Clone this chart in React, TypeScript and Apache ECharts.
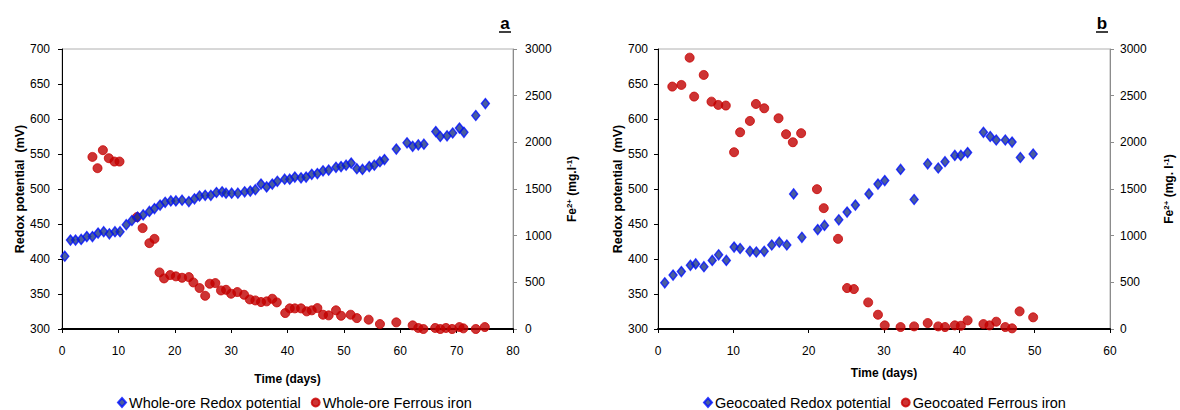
import React, { useEffect, useRef } from "react";
import * as echarts from "echarts";

// ---- Panel a: whole-ore ----
const wholeRedoxDays = [0.5,1.5,2.4,3.4,4.4,5.4,6.4,7.4,8.4,9.4,10.3,11.4,12.4,13.4,14.4,15.5,16.4,17.4,18.3,19.3,20.2,21.3,22.5,23.5,24.4,25.4,26.4,27.4,28.4,29.1,30.1,31.2,32.4,33.4,34.3,35.3,36.3,37.3,38.2,39.5,40.4,41.3,42.4,43.3,44.3,45.3,46.3,47.3,48.6,49.5,50.4,51.3,52.3,53.3,54.5,55.4,56.4,57.2,59.3,61.2,62.2,63.2,64.2,66.3,67.1,68.3,69.3,70.5,71.3,73.4,75.1];
const wholeRedoxMv = [404,427,427,428,432,432,437,439,436,439,439,449,455,460,463,468,472,477,481,483,483,484,482,486,490,491,491,495,496,494,494,494,496,497,499,507,503,507,511,514,514,517,516,517,521,522,526,527,531,532,534,537,529,528,532,534,539,542,557,566,561,563,564,582,575,576,580,587,581,605,622];
const wholeFeDays = [5.4,6.3,7.25,8.3,9.3,10.2,13.3,14.3,15.5,16.4,17.3,18.1,19.2,20.2,21.3,22.5,23.3,24.4,25.4,26.2,27.2,28.2,29.1,30.0,31.1,32.3,33.3,34.3,35.3,36.3,37.3,38.1,39.6,40.4,41.3,42.4,43.4,44.3,45.3,46.3,47.3,48.6,49.5,51.2,52.3,54.4,56.4,59.3,62.2,63.2,64.1,66.2,67.1,68.1,69.2,70.5,71.2,73.4,75.0];
const wholeFeMg = [1844,1723,1916,1830,1794,1794,1199,1081,920,966,606,542,578,564,549,556,499,439,356,485,492,413,420,378,396,367,317,306,289,296,324,285,171,221,221,221,189,200,224,153,146,200,142,153,117,100,53,71,39,11,0,11,0,11,0,21,7,0,21];

// ---- Panel b: geocoated ----
const geoRedoxDays = [0.9,2.0,3.1,4.3,5.0,6.1,7.2,8.05,9.07,10.1,10.9,12.2,13.05,14.1,15.1,16.1,17.1,18.0,19.1,21.2,22.1,24.0,25.1,26.2,28.0,29.2,30.1,32.2,34.0,35.8,37.2,38.1,39.4,40.2,41.1,43.2,44.1,44.9,46.1,47.0,48.1,49.8];
const geoRedoxMv = [366,377,382,391,393,389,398,406,398,417,415,411,410,411,420,424,420,493,431,442,448,456,467,477,493,507,512,528,485,536,530,539,548,548,552,581,575,570,570,567,545,550];
const geoFeDays = [1.9,3.1,4.2,4.8,6.07,7.1,8.0,9.0,10.1,10.9,12.2,13.0,14.1,16.0,17.0,17.9,19.0,21.1,22.0,23.9,25.1,26.0,27.9,29.2,30.1,32.2,34.0,35.8,37.2,38.1,39.4,40.2,41.1,43.2,44.0,44.9,46.1,47.0,48.0,49.8];
const geoFeMg = [2597,2615,2907,2490,2722,2436,2401,2394,1894,2108,2229,2411,2365,2258,2087,2001,2098,1498,1295,966,439,428,285,153,39,21,28,64,28,21,39,35,92,53,39,78,21,7,189,125];

const seriesNames = [
  "Whole-ore Redox potential",
  "Whole-ore Ferrous iron",
  "Geocoated Redox potential",
  "Geocoated Ferrous iron",
];
const panelLetters = ["a", "b"];
const xTitle = "Time (days)";
const leftTitle = "Redox potential  (mV)";

const zip = (xs: number[], ys: number[]) => xs.map((x, i) => [x, ys[i]]);

const FONT = "'Liberation Sans', Arial, sans-serif";

export default function App() {
  const ref = useRef<HTMLDivElement>(null);
  useEffect(() => {
    if (!ref.current) return;
    const chart = echarts.init(ref.current, undefined, { renderer: "svg" });

    const grids = [
      { left: 62, top: 49, width: 451, height: 280 },
      { left: 658, top: 49, width: 452, height: 280 },
    ];

    const plain = (v: number) => String(v);

    const xAxisBase = (gridIndex: number, max: number, gap: number) => ({
      type: "value",
      gridIndex,
      min: 0,
      max,
      interval: 10,
      name: xTitle,
      nameLocation: "middle",
      nameGap: gap,
      nameTextStyle: { fontFamily: FONT, fontWeight: "bold", fontSize: 12, color: "#000" },
      axisLine: { show: true, onZero: false, lineStyle: { color: "#000", width: 2 } },
      axisTick: { show: true, inside: false, length: 4, lineStyle: { color: "#000" } },
      axisLabel: { fontFamily: FONT, fontSize: 12, color: "#000", margin: 16, formatter: plain },
      splitLine: { show: false },
    });

    const leftAxis = (gridIndex: number, gap: number, margin: number) => ({
      type: "value",
      gridIndex,
      position: "left",
      min: 300,
      max: 700,
      interval: 50,
      name: leftTitle,
      nameLocation: "middle",
      nameRotate: 90,
      nameGap: gap,
      nameTextStyle: { fontFamily: FONT, fontWeight: "bold", fontSize: 12.5, color: "#000" },
      axisLine: { show: true, onZero: false, lineStyle: { color: "#000", width: 1 } },
      axisTick: { show: true, inside: false, length: 4, lineStyle: { color: "#000" } },
      axisLabel: { fontFamily: FONT, fontSize: 12, color: "#000", margin, formatter: plain },
      splitLine: { show: false },
    });

    const rightAxis = (gridIndex: number, label: string, margin: number) => ({
      type: "value",
      gridIndex,
      position: "right",
      min: 0,
      max: 3000,
      interval: 500,
      name: label,
      nameLocation: "middle",
      nameRotate: 90,
      nameGap: 52,
      nameTextStyle: {
        fontFamily: FONT,
        fontWeight: "bold",
        fontSize: 12,
        color: "#000",
        rich: {
          n: { fontFamily: FONT, fontWeight: "bold", fontSize: 12, color: "#000", lineHeight: 14 },
          s: { fontFamily: FONT, fontWeight: "bold", fontSize: 8, color: "#000", verticalAlign: "top", lineHeight: 14 },
        },
      },
      axisLine: { show: true, onZero: false, lineStyle: { color: "#8c8c8c", width: 1 } },
      axisTick: { show: true, inside: false, length: 4, lineStyle: { color: "#8c8c8c" } },
      axisLabel: { fontFamily: FONT, fontSize: 12, color: "#000", margin, formatter: plain },
      splitLine: { show: false },
    });

    const diamondStyle = { color: "#1c3588", borderColor: "#0010ff", borderWidth: 1.4 };
    const circleStyle = { color: "#c00000", borderColor: "#c80000", borderWidth: 1 };

    const legendText = { fontFamily: FONT, fontSize: 14.5, color: "#000", padding: [0, 0, 0, -2] };

    const option = {
      animation: false,
      backgroundColor: "#fff",
      textStyle: { fontFamily: FONT },
      grid: grids.map((g) => ({ ...g, show: true, borderColor: "#b0b0b0", borderWidth: 1, backgroundColor: "transparent" })),
      xAxis: [xAxisBase(0, 80, 44), xAxisBase(1, 60, 38)],
      yAxis: [
        leftAxis(0, 36, 12),
        rightAxis(0, "{n|Fe}{s|2+}{n| (mg.l}{s|-1}{n|)}", 12),
        leftAxis(1, 33, 10),
        rightAxis(1, "{n|Fe}{s|2+}{n| (mg. l}{s|-1}{n|)}", 10),
      ],
      legend: [
        {
          data: [
            { name: seriesNames[0], icon: "diamond" },
            { name: seriesNames[1], icon: "circle" },
          ],
          left: 112,
          top: 390,
          itemWidth: 8,
          itemHeight: 9,
          itemGap: 10,
          textStyle: legendText,
        },
        {
          data: [
            { name: seriesNames[2], icon: "diamond" },
            { name: seriesNames[3], icon: "circle" },
          ],
          left: 698,
          top: 390,
          itemWidth: 8,
          itemHeight: 9,
          itemGap: 10,
          textStyle: legendText,
        },
      ],
      graphic: [
        { type: "text", x: 505, y: 23, style: { text: panelLetters[0], fontFamily: FONT, fontWeight: "bold", fontSize: 17, fill: "#000", align: "center", verticalAlign: "middle" } },
        { type: "line", shape: { x1: 499, y1: 32, x2: 511, y2: 32 }, style: { stroke: "#000", lineWidth: 1.5 } },
        { type: "text", x: 1102, y: 23, style: { text: panelLetters[1], fontFamily: FONT, fontWeight: "bold", fontSize: 17, fill: "#000", align: "center", verticalAlign: "middle" } },
        { type: "line", shape: { x1: 1096, y1: 32, x2: 1108, y2: 32 }, style: { stroke: "#000", lineWidth: 1.5 } },
      ],
      series: [
        {
          name: seriesNames[1], type: "scatter", xAxisIndex: 0, yAxisIndex: 1,
          symbol: "circle", symbolSize: 9, itemStyle: circleStyle,
          data: zip(wholeFeDays, wholeFeMg),
        },
        {
          name: seriesNames[0], type: "scatter", xAxisIndex: 0, yAxisIndex: 0,
          symbol: "diamond", symbolSize: [8, 10], itemStyle: diamondStyle,
          data: zip(wholeRedoxDays, wholeRedoxMv),
        },
        {
          name: seriesNames[3], type: "scatter", xAxisIndex: 1, yAxisIndex: 3,
          symbol: "circle", symbolSize: 9, itemStyle: circleStyle,
          data: zip(geoFeDays, geoFeMg),
        },
        {
          name: seriesNames[2], type: "scatter", xAxisIndex: 1, yAxisIndex: 2,
          symbol: "diamond", symbolSize: [8, 10], itemStyle: diamondStyle,
          data: zip(geoRedoxDays, geoRedoxMv),
        },
      ],
    };
    chart.setOption(option as any);
    return () => chart.dispose();
  }, []);

  return (
    <div
      ref={ref}
      style={{ position: "fixed", left: 0, top: 0, width: 1180, height: 410, background: "#fff" }}
    />
  );
}
